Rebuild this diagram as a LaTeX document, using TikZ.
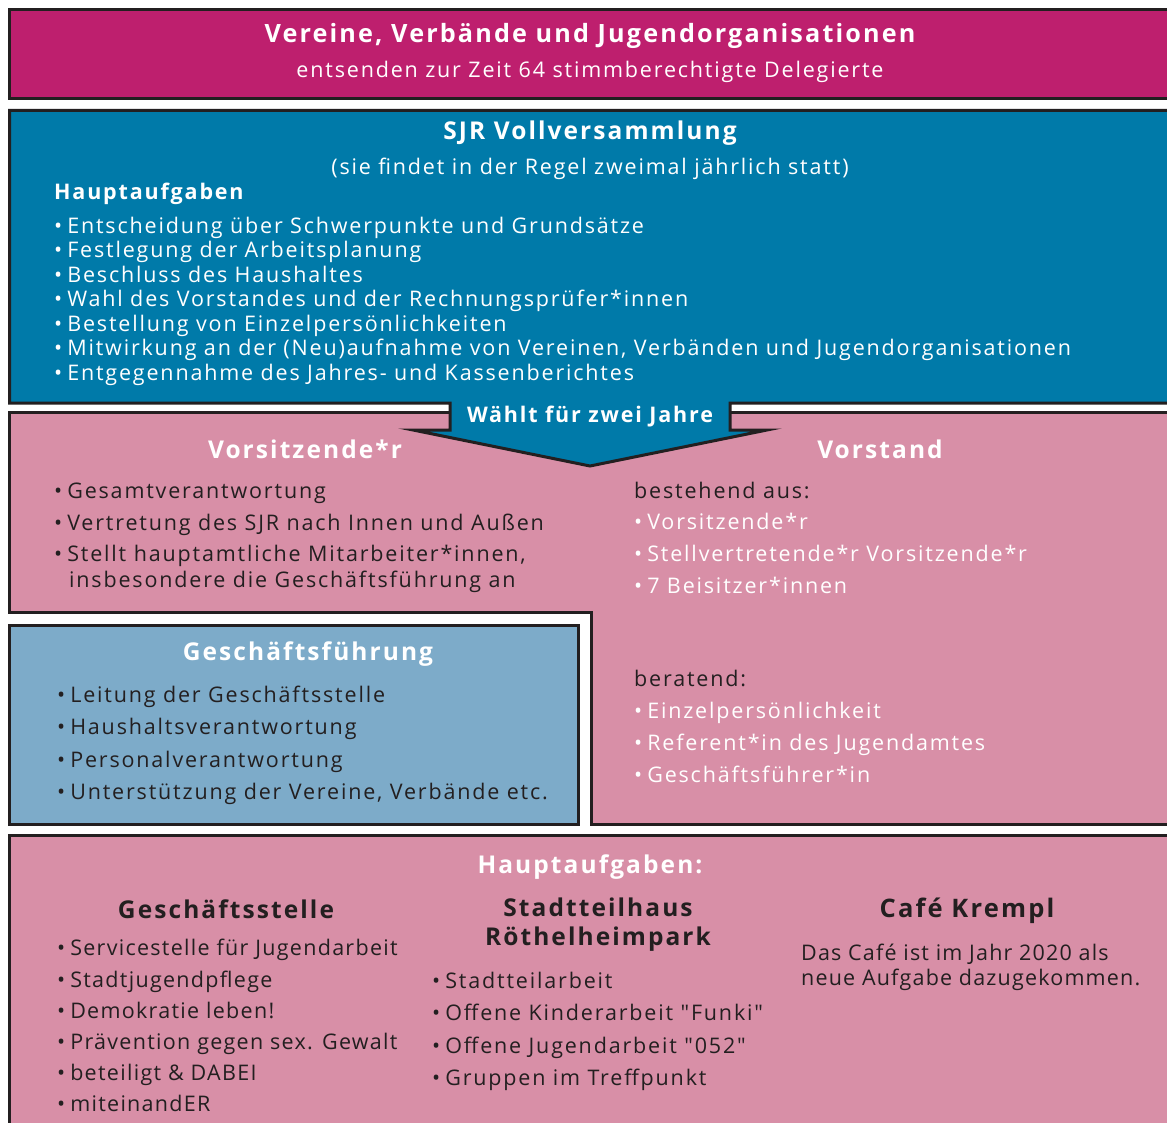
\documentclass[tikz,border=0pt]{standalone}
\usepackage{fontspec}
\setmainfont{Open Sans}[LetterSpace=8.5, Ligatures=TeXOff]
\definecolor{magentabox}{HTML}{BE1F6E}
\definecolor{bluebox}{HTML}{007AA9}
\definecolor{pinkbox}{HTML}{D88FA7}
\definecolor{lightblue}{HTML}{7DABC9}
\definecolor{darkline}{HTML}{231F20}
\tikzset{
  frame/.style={draw=darkline, line width=3pt, line join=miter},
  wtitle/.style={text=white, font=\fontsize{24.5}{29}\selectfont\bfseries, inner sep=0pt, yshift=-2.5pt},
  wsub/.style={text=white, font=\fontsize{21.5}{25}\selectfont, inner sep=0pt, yshift=-2.5pt},
  wline/.style={text=white, font=\fontsize{21.5}{25}\selectfont, inner sep=0pt, anchor=mid west, yshift=-5.5pt},
  dline/.style={text=darkline, font=\fontsize{21.5}{25}\selectfont, inner sep=0pt, anchor=mid west, yshift=-5.5pt},
  dtitle/.style={text=darkline, font=\fontsize{24.5}{29}\selectfont\bfseries, inner sep=0pt, align=center, yshift=-2.5pt},
}
\newcommand{\bul}{•\hspace{5pt}}
\begin{document}
\begin{tikzpicture}[x=1pt,y=-1pt]
\useasboundingbox[fill=white] (0,0) rectangle (1167,1123);
% top box
\path[frame, fill=magentabox] (9.5,9.5) rectangle (1180,98.5);
\node[wtitle, font=\fontsize{25.2}{29}\selectfont\bfseries] (t1) at (590,33) {Vereine, Verbände und Jugendorganisationen};
\node[wsub] (t2) at (590,69) {entsenden zur Zeit 64 stimmberechtigte Delegierte};
% pink L-shape
\path[frame, fill=pinkbox] (9.5,412) -- (1180,412) -- (1180,824) -- (591.5,824) -- (591.5,612) -- (9.5,612) -- cycle;
% Geschaeftsfuehrung box
\path[frame, fill=lightblue] (9.5,625) rectangle (578.5,824);
% bottom box
\path[frame, fill=pinkbox] (9.5,835) rectangle (1180,1135);
% blue box with arrow
\path[frame, fill=bluebox] (9.5,110.5) -- (1180,110.5) -- (1180,403) -- (730,403) -- (730,430) -- (767,430) -- (590,466) -- (413,430) -- (450,430) -- (450,403) -- (9.5,403) -- cycle;
\node[wtitle] (s1) at (590,131) {SJR Vollversammlung};
\node[wsub] (s2) at (590,166) {(sie findet in der Regel zweimal jährlich statt)};
\node[wline, font=\fontsize{21.5}{25}\selectfont\bfseries] (s3) at (54,191) {Hauptaufgaben};
\node[wline] (a1) at (54,225) {\bul Entscheidung über Schwerpunkte und Grundsätze};
\node[wline] (a2) at (54,249.5) {\bul Festlegung der Arbeitsplanung};
\node[wline] (a3) at (54,274) {\bul Beschluss des Haushaltes};
\node[wline] (a4) at (54,298.5) {\bul Wahl des Vorstandes und der Rechnungsprüfer*innen};
\node[wline] (a5) at (54,323) {\bul Bestellung von Einzelpersönlichkeiten};
\node[wline] (a6) at (54,347.5) {\bul Mitwirkung an der (Neu)aufnahme von Vereinen, Verbänden und Jugendorganisationen};
\node[wline] (a7) at (54,372) {\bul Entgegennahme des Jahres- und Kassenberichtes};
\node[wtitle, font=\fontsize{21.5}{26}\selectfont\bfseries] (w) at (590,414) {Wählt für zwei Jahre};
% Vorsitzende
\node[wtitle] (v0) at (305,447) {Vorsitzende*r};
\node[dline] (v1) at (54,490) {\bul Gesamtverantwortung};
\node[dline] (v2) at (54,522) {\bul Vertretung des SJR nach Innen und Außen};
\node[dline] (v3) at (54,553) {\bul Stellt hauptamtliche Mitarbeiter*innen,};
\node[dline] (v4) at (69,579) {insbesondere die Geschäftsführung an};
% Vorstand
\node[wtitle] (o0) at (880,447) {Vorstand};
\node[dline] (o1) at (634,490) {bestehend aus:};
\node[wline] (o2) at (634,521.5) {\bul Vorsitzende*r};
\node[wline] (o3) at (634,553.5) {\bul Stellvertretende*r Vorsitzende*r};
\node[wline] (o4) at (634,585.5) {\bul 7 Beisitzer*innen};
\node[dline] (o5) at (634,678) {beratend:};
\node[wline] (o6) at (634,710) {\bul Einzelpersönlichkeit};
\node[wline] (o7) at (634,742) {\bul Referent*in des Jugendamtes};
\node[wline] (o8) at (634,774) {\bul Geschäftsführer*in};
% Geschaeftsfuehrung
\node[wtitle] (g0) at (308,652) {Geschäftsführung};
\node[dline] (g1) at (57,694.5) {\bul Leitung der Geschäftsstelle};
\node[dline] (g2) at (57,726.5) {\bul Haushaltsverantwortung};
\node[dline] (g3) at (57,759) {\bul Personalverantwortung};
\node[dline] (g4) at (57,791) {\bul Unterstützung der Vereine, Verbände etc.};
% bottom
\node[wtitle] (h0) at (590,865) {Hauptaufgaben:};
\node[dtitle] (b0) at (226,907) {Geschäftsstelle};
\tikzset{tight/.style={font=\fontsize{21.5}{25}\selectfont\addfontfeature{LetterSpace=6}}}
\node[dline, tight] (b1) at (57,947) {\bul Servicestelle für Jugendarbeit};
\node[dline, tight] (b2) at (57,979) {\bul Stadtjugendpflege};
\node[dline, tight] (b3) at (57,1010) {\bul Demokratie leben!};
\node[dline, tight] (b4) at (57,1041) {\bul Prävention gegen sex. Gewalt};
\node[dline, tight] (b5) at (57,1072) {\bul beteiligt \& DABEI};
\node[dline, tight] (b6) at (57,1103) {\bul miteinandER};
\node[dtitle] (c0) at (598,922.5) {Stadtteilhaus\\Röthelheimpark};
\node[dline] (c1) at (432,980) {\bul Stadtteilarbeit};
\node[dline] (c2) at (432,1012) {\bul Offene Kinderarbeit "Funki"};
\node[dline] (c3) at (432,1045) {\bul Offene Jugendarbeit "052"};
\node[dline] (c4) at (432,1077) {\bul Gruppen im Treffpunkt};
\node[dtitle, font=\fontsize{25.5}{29}\selectfont\bfseries] (k0) at (967,908) {Café Krempl};
\node[dline, align=left, anchor=north west, yshift=0pt, font=\fontsize{21.5}{24.5}\selectfont\addfontfeature{LetterSpace=5.5}] (k1) at (801,938.5) {Das Café ist im Jahr 2020 als\\neue Aufgabe dazugekommen.};
\end{tikzpicture}
\end{document}
